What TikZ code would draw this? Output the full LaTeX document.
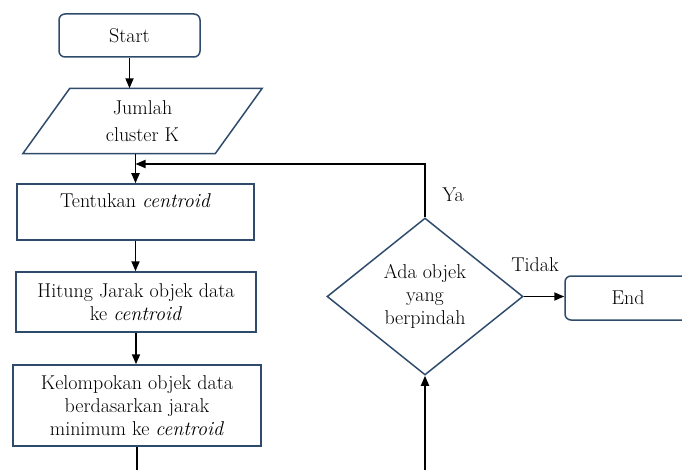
\documentclass[tikz,border=0pt]{standalone}
\usepackage{fontspec}
\usetikzlibrary{shapes.geometric,arrows.meta}
\definecolor{garis}{HTML}{2F4B6B}

\begin{document}
\begin{tikzpicture}[x=1pt,y=-1pt,
  font=\fontsize{20}{23}\selectfont,
  kotak/.style={draw=garis,line width=1.5pt,align=center,inner sep=0pt},
  terminal/.style={kotak,rounded corners=6pt},
  panah/.style={line width=1.8pt,-{Triangle[length=10pt,width=8pt]}},
  garisbiasa/.style={line width=1.8pt}]

% Batas gambar
\useasboundingbox (0,0) rectangle (682,470);

% Terminal mulai
\node[terminal,minimum width=141pt,minimum height=43pt] (mulai) at (129.5,35.5) {Start};

% Input jumlah cluster (jajaran genjang)
\node[align=center,inner sep=0pt,minimum width=192pt,minimum height=65pt] (jumlah) at (142.5,121) {Jumlah\\[4pt]cluster K};
\draw[garis,line width=1.5pt] ([xshift=-23.5pt]jumlah.south west) -- ([xshift=23.5pt]jumlah.north west)
  -- ([xshift=23.5pt]jumlah.north east) -- ([xshift=-23.5pt]jumlah.south east) -- cycle;

% Proses
\node[kotak,minimum width=237pt,minimum height=56pt,text depth=22pt] (tentukan) at (135.5,212) {Tentukan \textit{centroid}};
\node[kotak,minimum width=240pt,minimum height=60pt] (hitung) at (136,302) {Hitung Jarak objek data\\ke \textit{centroid}};
\node[kotak,minimum width=248pt,minimum height=81pt] (kelompok) at (137,405.5) {Kelompokan objek data\\berdasarkan jarak\\minimum ke \textit{centroid}};

% Keputusan
\node[kotak,diamond,minimum width=196pt,minimum height=157pt] (cek) at (425,296.5) {Ada objek\\yang\\berpindah};

% Terminal akhir
\node[terminal,minimum width=126pt,minimum height=44pt] (akhir) at (628,298) {End};

% Label cabang
\node (ya) at (453,195) {Ya};
\node (tidak) at (535,265) {Tidak};

% Titik bantu
\coordinate (gabung) at (135.5,164);
\coordinate (bawahkiri) at (kelompok.south |- 0,472);
\coordinate (bawahkanan) at (cek.south |- 0,472);

% Alur
\draw[panah] (mulai.south) -- (mulai.south |- jumlah.north);
\draw[panah] (jumlah.south -| tentukan.north) -- (tentukan.north);
\draw[panah] (tentukan.south) -- (tentukan.south |- hitung.north);
\draw[panah] (hitung.south) -- (hitung.south |- kelompok.north);
\draw[garisbiasa] (kelompok.south) -- (bawahkiri);
\draw[panah] (bawahkanan) -- (cek.south);
\draw[panah] (cek.north) -- (cek.north |- gabung) -- (gabung);
\draw[panah] (cek.east) -- (cek.east -| akhir.west);
\end{tikzpicture}
\end{document}
